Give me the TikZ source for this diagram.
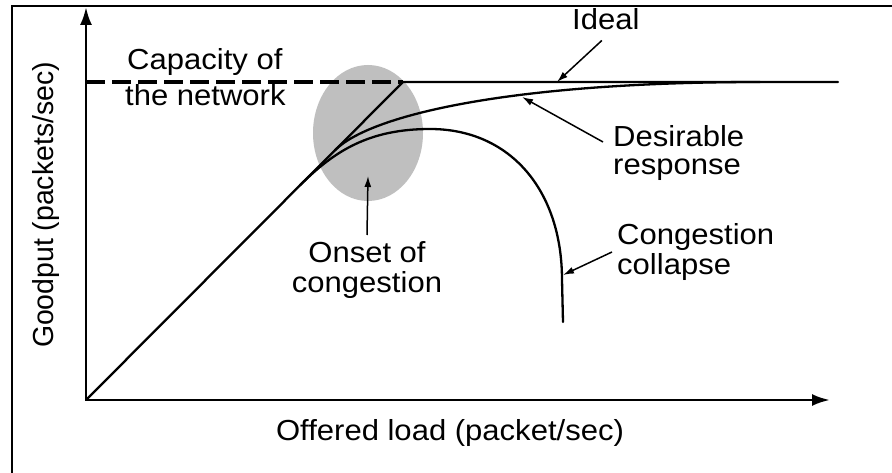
\documentclass[tikz,border=0pt]{standalone}
\usepackage{fontspec}
\setmainfont{Liberation Sans}[FakeStretch=1.07]
\newfontfamily\ylabfont{Liberation Sans}[FakeStretch=0.98]
\usetikzlibrary{arrows.meta,shapes.geometric}
\begin{document}
\begin{tikzpicture}[x=1pt,y=-1pt,
  lbl/.style={font=\fontsize{29}{35}\selectfont, inner sep=0pt},
  curve/.style={line width=2.3pt, line cap=round},
  axis/.style={line width=2.7pt, -{Latex[length=18pt,width=12pt]}},
  pointer/.style={line width=1.5pt, -{Latex[length=11pt,width=7pt]}},
  zone/.style={ellipse, fill=gray!50, draw=none, minimum width=110pt, minimum height=136pt, inner sep=0pt},
]
\useasboundingbox (0,0) rectangle (892,473);
\fill[white] (0,0) rectangle (892,473);

% outer frame
\draw[line width=1.8pt] (12,473) -- (12,6) -- (892,6);

% key points of the plot
\coordinate (O)     at (86,400);
\coordinate (xend)  at (830,400);
\coordinate (yend)  at (86,7);
\coordinate (ycap)  at (86,82);
\coordinate (knee)  at (403,82);
\coordinate (iend)  at (838,82);

% shaded region where congestion sets in
\node[zone] (zone) at (368,133) {};

% axes
\draw[axis] (O) -- (xend);
\draw[axis] (O) -- (yend);

% ideal response and network capacity
\draw[curve] (O) -- (knee) -- (iend);
\draw[line width=3.2pt, dash pattern=on 19pt off 7pt] (ycap) -- (knee);

% desirable response
\coordinate (dstart) at (335,150.2);
\coordinate (dend)   at (760,82);
\draw[curve] (dstart) .. controls (370,115.1) and (510,82) .. (dend);

% congestion collapse
\coordinate (cstart) at (300,185.3);
\coordinate (cpeak)  at (430,129);
\coordinate (cbend)  at (562,280);
\coordinate (cend)   at (563,322);
\draw[curve] (cstart) .. controls (335,150.2) and (370,129) .. (cpeak)
  .. controls (510,129) and (562,190) .. (cbend) -- (cend);

% labels
\node[lbl, anchor=base west] (cap1) at (127,70) {Capacity of};
\node[lbl, anchor=base west] (cap2) at (125,106) {the network};
\node[lbl, anchor=base west] (ideal) at (572,30) {Ideal};
\node[lbl, anchor=base west] (des1) at (613,147) {Desirable};
\node[lbl, anchor=base west] (des2) at (613,175) {response};
\node[lbl, anchor=base west] (col1) at (617,245) {Congestion};
\node[lbl, anchor=base west] (col2) at (617,275) {collapse};
\node[lbl, anchor=base] (ons1) at (367,263) {Onset of};
\node[lbl, anchor=base] (ons2) at (367,292) {congestion};
\node[lbl, anchor=base] (xlab) at (450,440) {Offered load (packet/sec)};
\node[lbl, anchor=base, rotate=90, font=\ylabfont\fontsize{29}{35}\selectfont] (ylab) at (53,205) {Goodput (packets/sec)};

% pointers from labels to curves
\coordinate (idealtip) at (557,82);
\coordinate (destip)   at (522,97);
\coordinate (coltip)   at (563,275);
\coordinate (onstip)   at (368,176);
\draw[pointer] ([shift={(-4,10)}]ideal.south) -- (idealtip);
\draw[pointer] ([shift={(-10,-5)}]des1.base west) -- (destip);
\draw[pointer] ([shift={(-5,7)}]col1.base west) -- (coltip);
\draw[pointer] ([yshift=28pt]ons1.base) -- (onstip);
\end{tikzpicture}
\end{document}
